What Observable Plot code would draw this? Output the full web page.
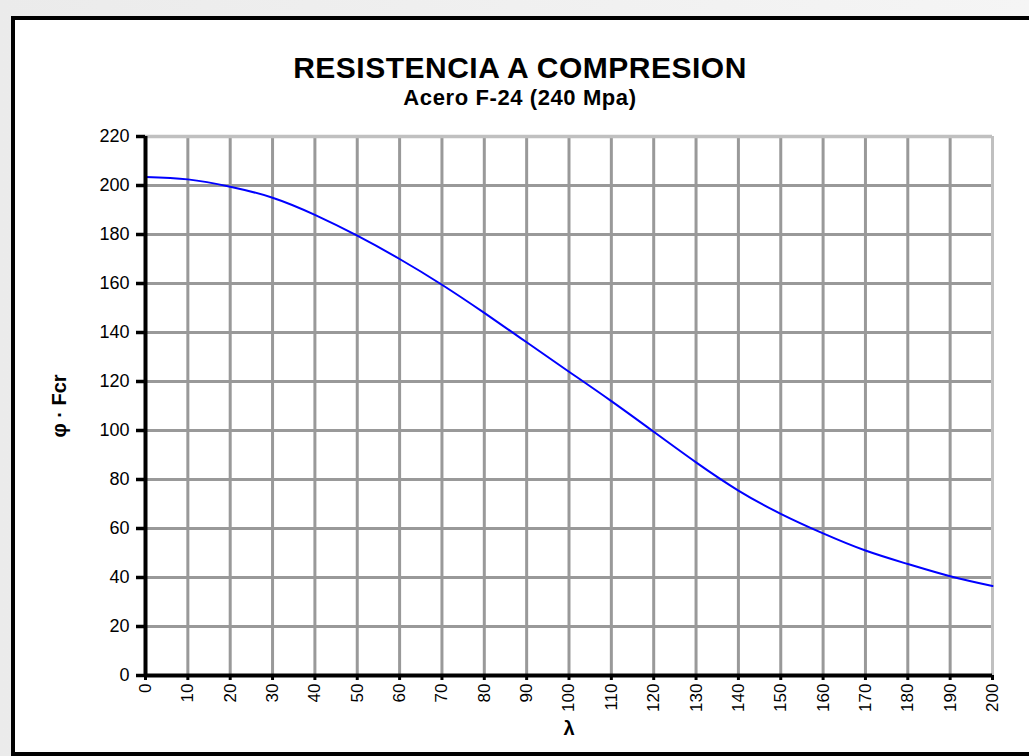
<!DOCTYPE html>
<html>
<head>
<meta charset="utf-8">
<script src="https://cdn.jsdelivr.net/npm/d3@7"></script>
<script src="https://cdn.jsdelivr.net/npm/@observablehq/plot@0.6"></script>
<style>
  html, body { margin: 0; padding: 0; }
  body {
    width: 1029px; height: 756px; overflow: hidden; position: relative;
    background: linear-gradient(to right, #ebebeb, #f5f5f5);
    font-family: "Liberation Sans", Arial, sans-serif;
  }
  #frame {
    position: absolute; left: 11px; top: 16px; width: 1030px; height: 732px;
    border: 4px solid #000; background: #fff; overflow: hidden;
  }
  #chart { position: absolute; left: -15px; top: -20px; }
  #title {
    position: absolute; left: 0; width: 1010px; top: 33px; text-align: center;
    font-weight: bold; font-size: 30px; line-height: 30px; letter-spacing: 0.5px; color: #000;
  }
  #subtitle {
    position: absolute; left: 0; width: 1010px; top: 67px; text-align: center;
    font-weight: bold; font-size: 22px; line-height: 22px; letter-spacing: 0.6px; color: #000;
  }
</style>
</head>
<body>
<div id="frame">
  <div id="title">RESISTENCIA A COMPRESION</div>
  <div id="subtitle">Acero F-24 (240 Mpa)</div>
  <div id="chart"></div>
</div>
<script>
// Slenderness λ and design compressive stress φ·Fcr (MPa)
const lambda = [0, 10, 20, 30, 40, 50, 60, 70, 80, 90, 100, 110, 120, 130, 140, 150, 160, 170, 180, 190, 200];
const stress = [203.5, 202.5, 199.5, 195, 188, 179.5, 170, 159.5, 148, 136, 124, 112, 99.5, 87, 75.5, 66, 58, 51, 45.5, 40.5, 36.5];

const xTicks = [0, 10, 20, 30, 40, 50, 60, 70, 80, 90, 100, 110, 120, 130, 140, 150, 160, 170, 180, 190, 200];
const yTicks = [0, 20, 40, 60, 80, 100, 120, 140, 160, 180, 200, 220];
const xGrid = [10, 20, 30, 40, 50, 60, 70, 80, 90, 100, 110, 120, 130, 140, 150, 160, 170, 180, 190];
const yGrid = [20, 40, 60, 80, 100, 120, 140, 160, 180, 200];
const xEdge = [200];
const yEdge = [220];

const xLabel = "λ";
const yLabel = "φ · Fcr";

const data = lambda.map((l, i) => ({lambda: l, stress: stress[i]}));

const chart = Plot.plot({
  width: 1029,
  height: 756,
  marginLeft: 145,
  marginRight: 37,
  marginTop: 136,
  marginBottom: 81,
  style: {fontFamily: "'Liberation Sans', Arial, sans-serif", color: "#000", background: "transparent", overflow: "visible"},
  x: {domain: [0, 200]},
  y: {domain: [0, 220]},
  marks: [
    Plot.ruleX(xGrid, {stroke: "#999999", strokeWidth: 3}),
    Plot.ruleY(yGrid, {stroke: "#999999", strokeWidth: 3}),
    Plot.ruleX(xEdge, {stroke: "#c0c0c0", strokeWidth: 3}),
    Plot.ruleY(yEdge, {stroke: "#c0c0c0", strokeWidth: 3.5}),
    Plot.line(data, {x: "lambda", y: "stress", stroke: "#0000ff", strokeWidth: 2, curve: "natural"}),
    Plot.ruleX([0], {stroke: "#000", strokeWidth: 4}),
    Plot.ruleY([0], {stroke: "#000", strokeWidth: 4}),
    Plot.axisY({
      ticks: yTicks, tickSize: 9, tickPadding: 7, strokeWidth: 3.5, fontSize: 18,
      label: yLabel, labelAnchor: "center", labelOffset: 94, labelArrow: "none"
    }),
    Plot.axisX({
      ticks: xTicks, tickSize: 5, tickPadding: 3, tickRotate: -90, strokeWidth: 3, fontSize: 17,
      label: xLabel, labelAnchor: "center", labelOffset: 59, labelArrow: "none"
    })
  ]
});
document.getElementById("chart").appendChild(chart);
// style the axis labels (bold like the reference)
chart.querySelectorAll("g[aria-label='y-axis label'] text, g[aria-label='x-axis label'] text").forEach(t => {
  t.setAttribute("font-weight", "bold");
  t.setAttribute("font-size", "20");
});
</script>
</body>
</html>
